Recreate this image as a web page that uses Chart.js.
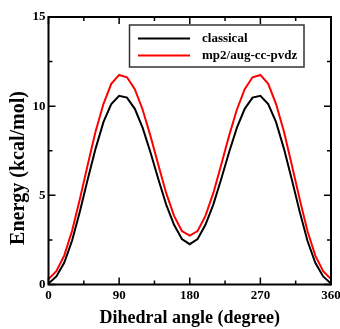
<!DOCTYPE html>
<html>
<head>
<meta charset="utf-8">
<script src="https://cdn.jsdelivr.net/npm/chart.js@4/dist/chart.umd.min.js"></script>
<style>
  html, body { margin: 0; padding: 0; background: #fff; }
  #wrap { width: 340px; height: 329px; }
</style>
</head>
<body>
<div id="wrap"><canvas id="torsion"></canvas></div>
<script>
const angles = [0, 10, 20, 30, 40, 50, 60, 70, 80, 90, 100, 110, 120, 130, 140, 150, 160, 170, 180,
  190, 200, 210, 220, 230, 240, 250, 260, 270, 280, 290, 300, 310, 320, 330, 340, 350, 360];
const classical = [0.05, 0.45, 1.22, 2.45, 4.10, 5.90, 7.62, 9.10, 10.12, 10.58, 10.48, 9.85, 8.78, 7.40, 5.90, 4.48, 3.35, 2.55, 2.26,
  2.55, 3.35, 4.48, 5.90, 7.40, 8.78, 9.85, 10.48, 10.58, 10.12, 9.10, 7.62, 5.90, 4.10, 2.45, 1.22, 0.45, 0.05];
const mp2 = [0.30, 0.75, 1.62, 3.00, 4.80, 6.72, 8.58, 10.12, 11.25, 11.75, 11.62, 10.95, 9.80, 8.32, 6.70, 5.12, 3.85, 3.00, 2.74,
  3.00, 3.85, 5.12, 6.70, 8.32, 9.80, 10.95, 11.62, 11.75, 11.25, 10.12, 8.58, 6.72, 4.80, 3.00, 1.62, 0.75, 0.30];
const seriesNames = ["classical", "mp2/aug-cc-pvdz"];
const xTicks = { min: 0, max: 360, major: 90, minor: 45 };
const yTicks = { min: 0, max: 15, major: 5, minor: 2.5 };
const yTitle = "Energy (kcal/mol)";

const serif = "'Liberation Serif', 'DejaVu Serif', serif";

function points(values) {
  return angles.map((a, i) => ({ x: a, y: values[i] }));
}

// box around the plot with inward major/minor ticks on all four sides
const frameTicks = {
  id: "frameTicks",
  afterDatasetsDraw(chart) {
    const { ctx, chartArea: area, scales } = chart;
    ctx.save();
    ctx.strokeStyle = "#000";
    ctx.lineWidth = 2;
    ctx.strokeRect(area.left, area.top, area.right - area.left, area.bottom - area.top);
    ctx.lineWidth = 1.5;
    ctx.beginPath();
    for (let v = xTicks.min; v <= xTicks.max; v += xTicks.minor) {
      const px = scales.x.getPixelForValue(v);
      const len = v % xTicks.major === 0 ? 7 : 4;
      ctx.moveTo(px, area.bottom); ctx.lineTo(px, area.bottom - len);
      ctx.moveTo(px, area.top); ctx.lineTo(px, area.top + len);
    }
    for (let v = yTicks.min; v <= yTicks.max; v += yTicks.minor) {
      const py = scales.y.getPixelForValue(v);
      const len = v % yTicks.major === 0 ? 7 : 4;
      ctx.moveTo(area.left, py); ctx.lineTo(area.left + len, py);
      ctx.moveTo(area.right, py); ctx.lineTo(area.right - len, py);
    }
    ctx.stroke();
    ctx.restore();
  },
};

// legend box in the upper right of the plot, plus the rotated y title
const boxLegend = {
  id: "boxLegend",
  afterDraw(chart) {
    const { ctx } = chart;
    const box = { left: 129.5, top: 25, right: 304, bottom: 67 };
    ctx.save();
    ctx.fillStyle = "#fff";
    ctx.fillRect(box.left, box.top, box.right - box.left, box.bottom - box.top);
    ctx.strokeStyle = "#333";
    ctx.lineWidth = 1.5;
    ctx.strokeRect(box.left, box.top, box.right - box.left, box.bottom - box.top);
    ctx.font = "bold 13px " + serif;
    ctx.textBaseline = "middle";
    chart.data.datasets.forEach((ds, i) => {
      const y = 38.5 + i * 17;
      ctx.strokeStyle = ds.borderColor;
      ctx.lineWidth = 2;
      ctx.beginPath();
      ctx.moveTo(138, y); ctx.lineTo(190, y);
      ctx.stroke();
      ctx.fillStyle = "#000";
      ctx.fillText(ds.label, 202, y);
    });

    ctx.translate(19, 168);
    ctx.rotate(-Math.PI / 2);
    ctx.font = "bold 20px " + serif;
    ctx.textAlign = "center";
    ctx.fillText(yTitle, 0, 0);
    ctx.restore();
  },
};

new Chart(document.getElementById("torsion"), {
  type: "line",
  data: {
    datasets: [
      { label: seriesNames[0], data: points(classical), borderColor: "#000000", borderWidth: 2, pointRadius: 0, tension: 0 },
      { label: seriesNames[1], data: points(mp2), borderColor: "#ff0000", borderWidth: 2, pointRadius: 0, tension: 0 },
    ],
  },
  options: {
    responsive: true,
    maintainAspectRatio: false,
    animation: false,
    layout: { padding: { top: 17, right: 9, left: 0, bottom: 0 } },
    plugins: { legend: { display: false }, tooltip: { enabled: false } },
    scales: {
      x: {
        type: "linear",
        min: xTicks.min,
        max: xTicks.max,
        grid: { display: false, drawTicks: false },
        border: { display: false },
        ticks: { stepSize: xTicks.major, padding: 3, color: "#000", font: { family: serif, size: 13, weight: "bold" } },
        title: { display: true, text: "Dihedral angle (degree)", color: "#000", padding: { top: 0, bottom: 0 }, font: { family: serif, size: 18, weight: "bold" } },
        afterFit(scale) { scale.height = 44.5; scale.paddingLeft = 0; scale.paddingRight = 0; },
      },
      y: {
        min: yTicks.min,
        max: yTicks.max,
        grid: { display: false, drawTicks: false },
        border: { display: false },
        ticks: { stepSize: yTicks.major, padding: 3, color: "#000", font: { family: serif, size: 13, weight: "bold" } },
        afterFit(scale) { scale.width = 48.5; scale.paddingTop = 0; scale.paddingBottom = 0; },
      },
    },
  },
  plugins: [frameTicks, boxLegend],
});
</script>
</body>
</html>
